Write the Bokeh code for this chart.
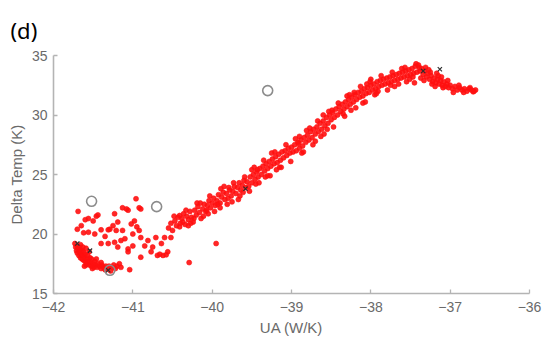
from bokeh.plotting import figure
from bokeh.models import FixedTicker, Range1d, Title
from bokeh.embed import file_html
from bokeh.resources import INLINE

# ---- data ----
band_x = [-40.55,-40.52,-40.50,-40.47,-40.45,-40.43,-40.40,-40.38,-40.36,-40.34,-40.32,-40.30,-40.28,-40.26,-40.24,-40.22,-40.20,-40.18,-40.16,-40.14,-40.12,-40.10,-40.08,-40.06,-40.04,-40.02,-40.00,-40.30,-40.15,-40.05,
          -39.98,-39.96,-39.94,-39.92,-39.90,-39.88,-39.86,-39.84,-39.82,-39.80,-39.78,-39.76,-39.74,-39.72,-39.70,-39.68,-39.66,-39.64,-39.62,-39.60,-39.58,-39.90,-39.75,-39.65,-39.85,
          -39.56,-39.54,-39.52,-39.50,-39.48,-39.46,-39.44,-39.42,-39.40,-39.38,-39.36,-39.34,-39.32,-39.30,-39.28,-39.26,-39.24,-39.22,-39.20,-39.18,-39.16,-39.14,-39.12,-39.10,-39.08,-39.06,-39.04,-39.02,-39.00,-39.45,-39.30,-39.15,-39.50,-39.25,
          -38.98,-38.96,-38.94,-38.92,-38.90,-38.88,-38.86,-38.84,-38.82,-38.80,-38.78,-38.76,-38.74,-38.72,-38.70,-38.68,-38.66,-38.64,-38.62,-38.60,-38.58,-38.56,-38.54,-38.52,-38.50,-38.48,-38.46,-38.44,-38.42,-38.40,-38.85,-38.70,-38.55,-38.90,-38.60,
          -38.38,-38.36,-38.34,-38.32,-38.30,-38.28,-38.26,-38.24,-38.22,-38.20,-38.18,-38.16,-38.14,-38.12,-38.10,-38.08,-38.06,-38.04,-38.02,-38.00,-37.98,-37.96,-37.94,-37.92,-37.90,-37.88,-37.86,-37.84,-37.82,-37.80,-38.25,-38.10,-37.95,-38.30,-38.00,
          -37.78,-37.76,-37.74,-37.72,-37.70,-37.68,-37.66,-37.64,-37.62,-37.60,-37.58,-37.56,-37.54,-37.52,-37.50,-37.48,-37.46,-37.44,-37.42,-37.40,-37.38,-37.36,-37.34,-37.70,-37.55,-37.45,
          -37.32,-37.30,-37.28,-37.26,-37.24,-37.22,-37.20,-37.18,-37.16,-37.14,-37.12,-37.10,-37.08,-37.06,-37.04,-37.02,-37.00,-36.97,-36.94,-36.91,-36.88,-36.85,-36.82,-36.79,-36.76,-36.73,-36.70,-36.68,-37.25,-37.15]
band_y = [20.5,20.9,20.3,21.1,20.7,21.4,20.9,21.3,21.7,20.8,21.5,21.2,21.9,21.4,21.0,22.0,21.6,22.3,21.8,21.3,22.1,22.5,21.9,22.4,22.8,22.2,22.6,20.7,22.6,21.7,
          23.0,22.4,22.8,23.3,22.6,23.1,23.5,22.9,23.4,23.0,23.7,23.2,23.6,24.0,23.4,23.9,24.3,23.7,24.1,24.5,23.9,22.2,22.7,23.2,24.0,
          24.4,24.0,24.8,24.3,25.0,24.6,25.2,24.8,25.5,25.0,25.7,25.3,25.9,25.5,26.1,25.7,26.3,25.9,26.5,26.0,26.7,26.2,26.9,26.4,27.0,26.6,27.2,26.8,27.3,24.2,24.9,25.6,25.4,26.8,
          26.9,27.5,27.0,27.7,27.2,27.9,27.4,28.1,27.7,28.3,27.9,28.6,28.1,28.8,28.4,29.0,28.6,29.3,28.8,29.5,29.1,29.8,29.3,30.0,29.6,30.2,29.8,30.5,30.0,30.7,26.9,27.8,28.8,28.2,30.0,
          30.3,30.9,30.5,31.1,30.7,31.3,30.9,31.5,31.1,31.7,31.3,31.9,31.5,32.0,31.6,32.2,31.8,32.3,31.9,32.5,32.1,32.6,32.2,32.8,32.4,32.9,32.5,33.0,32.6,33.1,30.4,31.0,31.7,31.6,33.0,
          32.7,33.2,32.8,33.3,32.9,33.4,33.0,33.5,33.1,33.6,33.2,33.7,33.3,33.8,33.4,33.9,33.5,34.1,33.6,34.2,33.7,33.9,33.4,32.4,32.8,32.7,
          33.7,33.2,33.5,33.0,33.3,32.8,33.1,32.7,33.0,32.6,32.9,32.5,32.8,32.4,32.6,32.3,32.5,32.2,32.4,32.1,32.3,32.1,32.2,32.0,32.2,32.1,32.0,32.1,33.6,33.3]

band2_x = [-40.48,-40.41,-40.33,-40.27,-40.19,-40.11,-40.03,-39.97,-39.89,-39.81,-39.73,-39.67,-39.59,-39.53,-39.47,-39.41,-39.35,-39.27,-39.21,-39.13,
           -39.07,-39.01,-38.95,-38.87,-38.81,-38.73,-38.67,-38.59,-38.53,-38.47,-38.41,-38.33,-38.27,-38.19,-38.13,-38.07,-38.01,-37.93,-37.87,-37.79,
           -37.73,-37.65,-37.57,-37.51,-37.43,-37.37,-37.31,-37.23,-37.17,-37.09,-37.03,-36.96,-36.89,-36.83,-36.75,-36.71,
           -40.37,-40.23,-40.07,-39.93,-39.79,-39.61,-39.43,-39.33,-39.19,-38.91,-38.77,-38.63,-38.49,-38.35,-38.21,-38.05,-37.91,-37.75,-37.61,-37.47,
           -37.39,-37.33,-37.27,-37.19,-37.11]
band2_y = [21.5,20.6,22.0,20.9,22.6,21.5,23.2,21.9,23.8,22.5,24.3,22.9,24.8,23.6,25.6,24.3,26.2,24.9,26.9,25.6,
           27.5,26.1,28.0,26.8,28.7,27.5,29.5,28.4,30.3,29.0,31.0,29.9,31.7,30.6,32.4,31.1,32.8,31.8,33.3,32.1,
           33.6,32.6,34.0,33.0,34.3,33.1,34.0,32.6,33.5,32.3,32.9,31.9,32.5,31.9,32.3,31.95,
           21.0,21.3,22.0,22.5,23.9,23.5,25.4,24.8,25.4,27.6,28.9,28.2,30.4,30.1,31.9,32.6,32.0,32.5,33.9,33.2,
           34.0,32.9,33.8,32.4,33.2]

cluster_x = [-41.73,-41.72,-41.71,-41.70,-41.70,-41.69,-41.68,-41.68,-41.67,-41.66,-41.66,-41.65,-41.64,-41.64,-41.63,-41.62,-41.62,-41.61,-41.60,-41.60,-41.59,-41.58,-41.58,-41.57,-41.56,-41.55,-41.55,-41.54,-41.53,-41.52,-41.52,-41.50,-41.49,-41.48,-41.47,-41.45,-41.44,-41.42,-41.40,-41.39,-41.37,-41.35,-41.34,-41.32,-41.30,-41.28,-41.26,-41.24,-41.22,-41.20,-41.66,-41.63,-41.59,-41.46,-41.61,-41.40,-41.51]
cluster_y = [19.2,18.9,18.6,19.0,18.4,18.7,18.2,18.9,18.5,18.0,18.7,18.3,17.9,18.6,18.2,17.8,18.5,18.0,17.7,18.3,18.8,17.9,17.5,18.2,17.7,18.5,17.4,18.0,17.6,17.3,17.9,17.5,17.2,17.7,17.4,17.2,17.5,17.3,17.1,17.4,17.2,17.0,17.3,17.1,17.3,16.9,17.2,17.4,17.1,17.3,19.1,18.9,17.4,17.9,17.3,17.6,17.1]

sparse_x = [-41.69,-40.96,-41.13,-41.06,-41.23,-40.92,-41.60,-41.46,-41.50,-41.65,-41.56,-41.48,-41.40,-41.31,-41.25,-41.19,-41.13,-41.02,-40.98,-41.00,-40.92,-40.90,-41.40,-41.31,-41.23,-41.15,-41.06,-41.19,-41.00,-40.81,-40.75,-40.77,-40.69,-40.62,-40.71,-40.64,-40.60,-40.52,-40.90,-41.06,-41.04,-41.17,-41.15,-40.41,-40.56,-40.29,-39.95,-41.56,-41.44,-41.29,-41.21,-40.90,-41.08,-41.62,-41.35,-40.85,-40.66,-40.58,-41.10,-40.95,-41.70]
sparse_y = [21.9,22.96,22.2,22.0,21.7,22.2,21.2,21.5,21.1,20.7,20.15,20.0,20.35,20.35,20.7,21.0,20.3,20.85,21.1,20.0,20.3,19.7,19.2,19.2,19.3,19.45,18.75,18.9,19.0,19.45,18.9,18.5,18.2,18.2,19.7,19.2,19.7,19.7,18.05,18.5,17.0,17.5,17.2,21.55,18.5,17.6,19.2,21.3,21.6,20.4,20.3,22.1,22.1,20.1,19.8,19.0,18.3,18.25,19.6,20.6,20.4]

circle_x = [-41.52, -40.70, -39.30, -41.29]
circle_y = [22.75, 22.3, 32.05, 16.95]

cross_x = [-41.70, -41.54, -41.31, -39.58, -37.13, -37.34]
cross_y = [19.2, 18.6, 16.95, 23.8, 33.85, 33.7]

x_ticks = [-42, -41, -40, -39, -38, -37, -36]
y_ticks = [15, 20, 25, 30, 35]
panel_tag = "(d)"

p = figure(width=542, height=347, output_backend="svg", toolbar_location=None,
           x_range=Range1d(-42, -36), y_range=Range1d(15, 35),
           min_border_left=53, min_border_right=13, min_border_top=55, min_border_bottom=54)
p.title = Title(text=panel_tag, text_font_size="22px", text_font="Noto Sans",
                text_font_style="normal", text_color="black", align="left",
                vertical_align="bottom", offset=-43, standoff=21)
p.outline_line_color = None
p.grid.visible = False
p.background_fill_color = "white"
p.border_fill_color = "white"

for ax in (p.xaxis[0], p.yaxis[0]):
    ax.axis_line_color = "#b4b4b4"
    ax.axis_line_width = 1.6
    ax.major_tick_line_color = "#b4b4b4"
    ax.major_tick_line_width = 1.3
    ax.major_tick_in = 4
    ax.major_tick_out = 0
    ax.minor_tick_line_color = None
    ax.major_label_text_color = "#6a6a6a"
    ax.major_label_text_font = "Liberation Sans"
    ax.major_label_text_font_size = "14px"
    ax.axis_label_text_color = "#6a6a6a"
    ax.axis_label_text_font = "Liberation Sans"
    ax.axis_label_text_font_size = "15px"
    ax.axis_label_text_font_style = "normal"

p.xaxis.ticker = FixedTicker(ticks=x_ticks)
p.yaxis.ticker = FixedTicker(ticks=y_ticks)
p.xaxis.axis_label = "UA (W/K)"
p.yaxis.axis_label = "Delta Temp (K)"
p.xaxis.major_label_standoff = 8
p.yaxis.major_label_standoff = 6
p.xaxis.axis_label_standoff = 4
p.yaxis.axis_label_standoff = 4

for xs, ys in ((sparse_x, sparse_y), (cluster_x, cluster_y), (band_x, band_y), (band2_x, band2_y)):
    p.scatter(xs, ys, size=5, marker="circle", fill_color="#ff1010",
              line_color="#ff1010", line_alpha=0.6, fill_alpha=0.9)

p.scatter(circle_x, circle_y, size=10, marker="circle", fill_color=None,
          line_color="#8c8c8c", line_width=1.6)
p.scatter(cross_x, cross_y, size=6, marker="x", line_color="#303030", line_width=1.2)

open("out.html", "w").write(file_html(p, INLINE))
